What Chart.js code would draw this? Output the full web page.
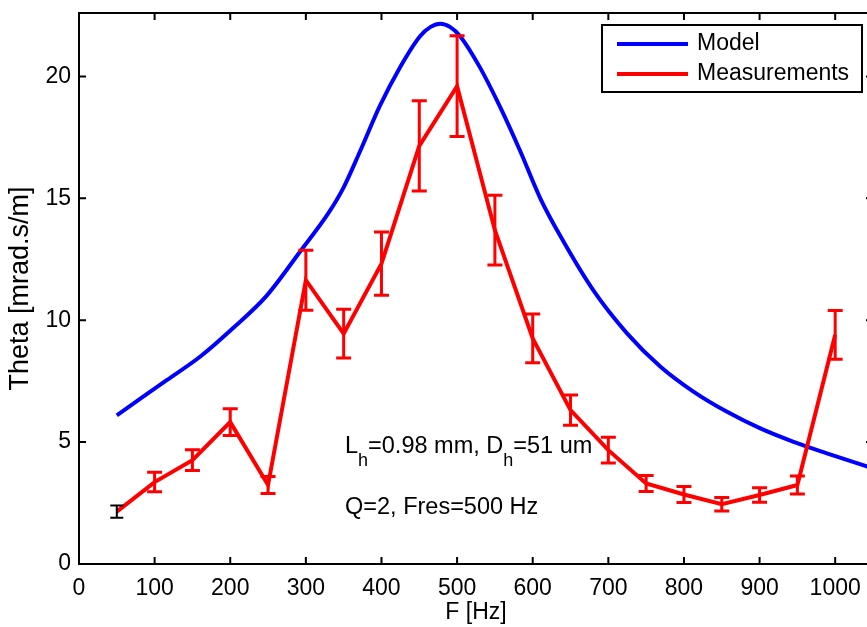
<!DOCTYPE html>
<html>
<head>
<meta charset="utf-8">
<script src="https://cdn.jsdelivr.net/npm/chart.js@4/dist/chart.umd.min.js"></script>
<style>
  html, body { margin: 0; padding: 0; background: #fff; overflow: hidden; }
  #chart { display: block; }
</style>
</head>
<body>
<canvas id="chart" width="874" height="627"></canvas>
<script>
// model curve
const modelF = [50, 116, 160, 202, 248, 292, 330, 350, 372, 398, 425, 451, 465, 478, 491, 504, 530, 557, 583, 610, 636, 680, 725, 769, 813, 857, 901, 945, 989, 1050];
const modelTheta = [6.1, 7.54, 8.5, 9.63, 11.0, 12.8, 14.4, 15.45, 16.95, 18.8, 20.4, 21.65, 22.03, 22.16, 22.02, 21.65, 20.38, 18.74, 16.97, 15.0, 13.48, 11.23, 9.45, 8.09, 7.06, 6.24, 5.56, 5.01, 4.54, 3.92];

// measurements with error bars
const measF = [50, 100, 150, 200, 250, 300, 350, 400, 450, 500, 550, 600, 650, 700, 750, 800, 850, 900, 950, 1000];
const measTheta = [2.15, 3.36, 4.26, 5.82, 3.24, 11.64, 9.45, 12.32, 17.15, 19.6, 13.69, 9.25, 6.31, 4.67, 3.3, 2.85, 2.45, 2.83, 3.24, 9.4];
const measErr = [0.25, 0.4, 0.43, 0.55, 0.35, 1.23, 1.0, 1.3, 1.85, 2.07, 1.43, 1.0, 0.62, 0.53, 0.33, 0.33, 0.28, 0.3, 0.37, 1.0];

const xTicks = [0, 100, 200, 300, 400, 500, 600, 700, 800, 900, 1000];
const yTicks = [0, 5, 10, 15, 20];

const FONT = "'Liberation Sans', Arial, sans-serif";

const errorBars = {
  id: "errorBars",
  afterDatasetsDraw(chart) {
    const { ctx, scales: { x, y } } = chart;
    ctx.save();
    measF.forEach((f, i) => {
      const px = x.getPixelForValue(f);
      const top = y.getPixelForValue(measTheta[i] + measErr[i]);
      const bot = y.getPixelForValue(measTheta[i] - measErr[i]);
      const first = i === 0;
      const half = first ? 6.5 : 7.5;
      ctx.strokeStyle = first ? "#000" : "#ff0000";
      ctx.lineWidth = first ? 2 : 3;
      ctx.beginPath();
      ctx.moveTo(px, top); ctx.lineTo(px, bot);
      ctx.moveTo(px - half, top); ctx.lineTo(px + half, top);
      ctx.moveTo(px - half, bot); ctx.lineTo(px + half, bot);
      ctx.stroke();
    });
    ctx.restore();
  }
};

function drawParts(ctx, parts, x, y) {
  parts.forEach(([txt, sub]) => {
    ctx.font = sub ? `18px ${FONT}` : `23.5px ${FONT}`;
    ctx.fillText(txt, x, sub ? y + 13 : y);
    x += ctx.measureText(txt).width;
  });
}

const frame = {
  id: "frame",
  afterDraw(chart) {
    const { ctx, chartArea: a, scales: { x, y } } = chart;
    ctx.save();
    ctx.strokeStyle = "#000";
    ctx.lineWidth = 2;
    ctx.strokeRect(a.left, a.top, a.right - a.left, a.bottom - a.top);
    ctx.beginPath();
    xTicks.forEach((v) => {
      const px = x.getPixelForValue(v);
      ctx.moveTo(px, a.bottom); ctx.lineTo(px, a.bottom - 7);
      ctx.moveTo(px, a.top); ctx.lineTo(px, a.top + 7);
    });
    yTicks.forEach((v) => {
      const py = y.getPixelForValue(v);
      ctx.moveTo(a.left, py); ctx.lineTo(a.left + 7, py);
      ctx.moveTo(a.right, py); ctx.lineTo(a.right - 7, py);
    });
    ctx.stroke();

    // legend
    ctx.fillStyle = "#fff";
    ctx.fillRect(602, 25, 260, 67);
    ctx.strokeRect(602, 25, 260, 67);
    ctx.textBaseline = "middle";
    ctx.fillStyle = "#000";
    ctx.font = `23px ${FONT}`;
    chart.data.datasets.forEach((ds, i) => {
      const ly = 44 + i * 30;
      ctx.strokeStyle = ds.borderColor;
      ctx.lineWidth = 4;
      ctx.beginPath();
      ctx.moveTo(617, ly); ctx.lineTo(688, ly);
      ctx.stroke();
      ctx.fillText(ds.label, 697, ly);
    });

    // annotation
    ctx.textBaseline = "alphabetic";
    drawParts(ctx, [["L"], ["h", true], ["=0.98 mm, D"], ["h", true], ["=51 um"]], 345, 453);
    drawParts(ctx, [["Q=2, Fres=500 Hz"]], 345, 514);
    ctx.restore();
  }
};

new Chart(document.getElementById("chart"), {
  type: "line",
  data: {
    datasets: [
      {
        label: "Model",
        data: modelF.map((f, i) => ({ x: f, y: modelTheta[i] })),
        borderColor: "#0000ff",
        borderWidth: 4,
        pointRadius: 0,
        cubicInterpolationMode: "monotone",
        order: 2
      },
      {
        label: "Measurements",
        data: measF.map((f, i) => ({ x: f, y: measTheta[i] })),
        borderColor: "#ff0000",
        borderWidth: 4,
        pointRadius: 0,
        tension: 0,
        order: 1
      }
    ]
  },
  options: {
    responsive: false,
    animation: false,
    events: [],
    layout: { padding: { top: 13, right: 1, left: 0, bottom: 0 } },
    plugins: { legend: { display: false }, tooltip: { enabled: false } },
    scales: {
      x: {
        type: "linear",
        min: 0,
        max: 1050,
        afterFit: (s) => { s.height = 63; s.paddingLeft = 0; s.paddingRight = 0; },
        grid: { display: false, drawTicks: false },
        border: { display: false },
        ticks: { stepSize: 100, includeBounds: false, color: "#000", padding: 11, font: { family: FONT, size: 23 },
                 callback: (v) => String(v) },
        title: { display: true, text: "F [Hz]", color: "#000", padding: { top: 0, bottom: 1 }, font: { family: FONT, size: 23 } }
      },
      y: {
        min: 0,
        max: 22.6,
        afterFit: (s) => { s.width = 79; s.paddingTop = 0; s.paddingBottom = 0; },
        grid: { display: false, drawTicks: false },
        border: { display: false },
        ticks: { stepSize: 5, includeBounds: false, color: "#000", padding: 8, font: { family: FONT, size: 23 } },
        title: { display: true, text: "Theta [mrad.s/m]", color: "#000", padding: { top: 4, bottom: 0 }, font: { family: FONT, size: 27 } }
      }
    }
  },
  plugins: [errorBars, frame]
});
</script>
</body>
</html>
